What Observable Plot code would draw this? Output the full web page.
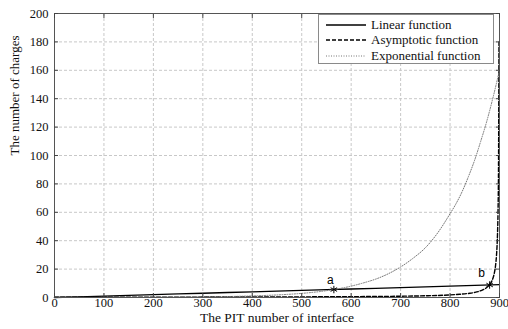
<!DOCTYPE html>
<html><head><meta charset="utf-8">
<script src="https://cdn.jsdelivr.net/npm/d3@7"></script>
<script src="https://cdn.jsdelivr.net/npm/@observablehq/plot@0.6"></script>
<style>
body{margin:0;background:#fff;}
#wrap{position:relative;width:508px;height:329px;}
#legend{position:absolute;left:318px;top:14px;width:174px;height:48px;border:1px solid #8a8a8a;background:#fff;font-family:"Liberation Serif","Times New Roman","DejaVu Serif",serif;font-size:13px;color:#111;}
#legend .row{display:flex;align-items:center;height:15.5px;padding-left:7px;}
#legend .row:first-child{margin-top:2px;}
#legend svg{margin-right:5px;}
svg text{font-family:"Liberation Serif","Times New Roman","DejaVu Serif",serif;}
svg .sans text, svg text.sans{font-family:"Liberation Sans",Arial,sans-serif;}
</style></head><body><div id="wrap"><div id="legend"></div></div>
<script>
// ---- data ----
const linearX = [0, 100, 200, 300, 400, 500, 600, 700, 800, 900];
const linearY = [0, 1, 2, 3, 4, 5, 6, 7, 8, 9];

const asymX = [0, 100, 200, 300, 400, 500, 600, 700, 750, 800, 820, 840, 850, 860, 867, 873, 878, 882, 885, 888, 890, 892, 894, 895, 896, 897, 898, 899];
const asymY = [0.2, 0.22, 0.26, 0.3, 0.36, 0.45, 0.6, 0.9, 1.2, 1.8, 2.3, 3, 3.6, 4.5, 5.5, 6.7, 8.2, 10, 12, 15, 18, 22.5, 30, 36, 45, 60, 90, 180];

const expX = [0, 100, 200, 300, 400, 450, 500, 550, 600, 625, 650, 675, 700, 725, 750, 775, 800, 812, 825, 837, 850, 862, 875, 887, 900];
const expY = [0.02, 0.05, 0.15, 0.4, 1.1, 1.8, 2.9, 4.8, 8, 10.3, 13, 16.7, 21.5, 27.6, 35, 45.5, 59, 66, 75, 85, 97, 110, 125, 141, 160];

const markX = [565, 880];
const markY = [5.6, 8.8];
const markLabels = ["a", "b"];
const labelX = [558, 864];
const labelY = [12, 17];

const xTicks = [0, 100, 200, 300, 400, 500, 600, 700, 800, 900];
const yTicks = [0, 20, 40, 60, 80, 100, 120, 140, 160, 180, 200];

const seriesNames = ["Linear function", "Asymptotic function", "Exponential function"];
const seriesDash = ["none", "4,2", "1,1.5"];
const seriesColor = ["#000", "#000", "#777"];
const seriesWidth = [1.3, 1.4, 1];

const xLabel = "The PIT number of interface";
const yLabel = "The number of charges";

// ---- build tables ----
const lin = linearX.map((x, i) => ({x, y: linearY[i]}));
const asym = asymX.map((x, i) => ({x, y: asymY[i]}));
const expo = expX.map((x, i) => ({x, y: expY[i]}));
const marks = markX.map((x, i) => ({x, y: markY[i]}));
const labels = labelX.map((x, i) => ({x, y: labelY[i], t: markLabels[i]}));
const series = [lin, asym, expo];

const serif = "Liberation Serif, Times New Roman, DejaVu Serif, serif";

const chart = Plot.plot({
  width: 508,
  height: 329,
  marginLeft: 54,
  marginRight: 9,
  marginTop: 13,
  marginBottom: 32,
  style: {fontFamily: serif, fontSize: "13px", color: "#111", background: "#fff"},
  x: {domain: [0, 900]},
  y: {domain: [0, 200]},
  marks: [
    Plot.gridX(xTicks, {stroke: "#c8c8c8", strokeOpacity: 1, strokeDasharray: "3,2"}),
    Plot.gridY(yTicks, {stroke: "#c8c8c8", strokeOpacity: 1, strokeDasharray: "3,2"}),
    ...series.map((d, i) => Plot.line(d, {x: "x", y: "y", curve: "monotone-x", stroke: seriesColor[i], strokeWidth: seriesWidth[i], strokeDasharray: seriesDash[i] === "none" ? null : seriesDash[i]})),
    Plot.dot(marks, {x: "x", y: "y", symbol: "asterisk", r: 3.5, stroke: "#000", strokeWidth: 1}),
    Plot.text(labels, {x: "x", y: "y", text: "t", className: "sans", fontSize: 12, fill: "#000"}),
    Plot.frame({stroke: "#555", strokeWidth: 1}),
    Plot.axisX(xTicks, {anchor: "bottom", tickSize: -4, tickPadding: 5, label: null, stroke: "#444", fontSize: 12.5}),
    Plot.axisX(xTicks, {anchor: "top", tickSize: -4, tickFormat: () => "", label: null, stroke: "#444"}),
    Plot.axisY(yTicks, {anchor: "left", tickSize: -4, tickPadding: 10, label: null, stroke: "#444", fontSize: 12.5}),
    Plot.axisY(yTicks, {anchor: "right", tickSize: -4, tickFormat: () => "", label: null, stroke: "#444"}),
    Plot.text([xLabel], {frameAnchor: "bottom", dy: 24, text: d => d, fontSize: 13.5, fill: "#111"}),
    Plot.text([yLabel], {frameAnchor: "left", dx: -40, rotate: -90, text: d => d, fontSize: 13, fill: "#111"})
  ]
});
document.getElementById("wrap").prepend(chart);

// legend
const leg = document.getElementById("legend");
seriesNames.forEach((name, i) => {
  const row = document.createElement("div");
  row.className = "row";
  const sv = d3.create("svg").attr("width", 40).attr("height", 6);
  sv.append("line").attr("x1", 0).attr("x2", 40).attr("y1", 3).attr("y2", 3)
    .attr("stroke", seriesColor[i]).attr("stroke-width", seriesWidth[i])
    .attr("stroke-dasharray", seriesDash[i] === "none" ? null : seriesDash[i]);
  row.appendChild(sv.node());
  const sp = document.createElement("span");
  sp.textContent = name;
  row.appendChild(sp);
  leg.appendChild(row);
});
</script>
</body></html>
